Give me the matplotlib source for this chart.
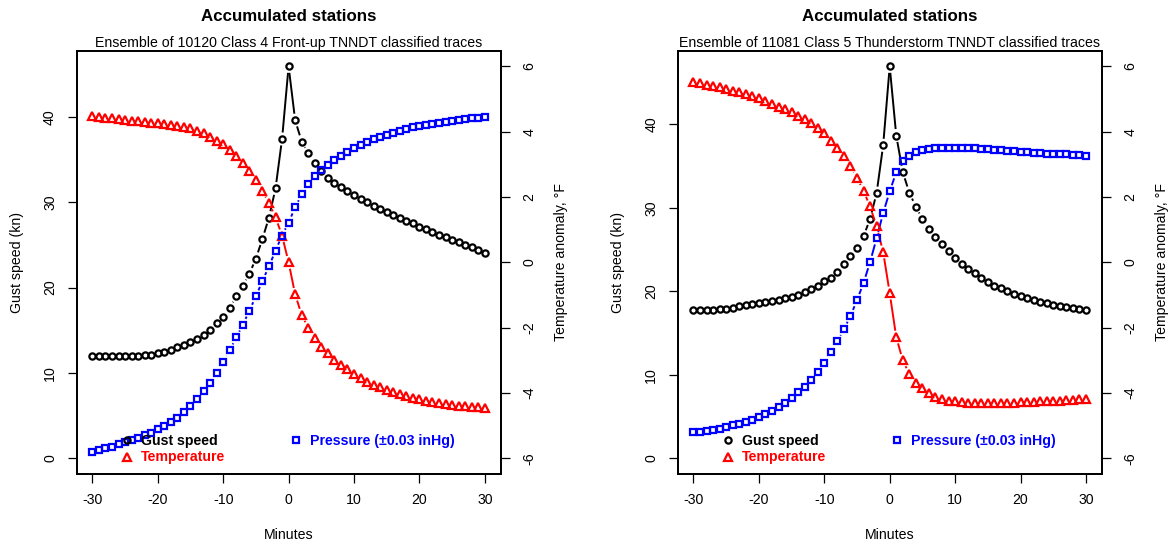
import numpy as np
import matplotlib
matplotlib.use('Agg')
import matplotlib.pyplot as plt
from matplotlib.collections import LineCollection

plt.rcParams['font.family'] = ['Liberation Sans', 'DejaVu Sans']
plt.rcParams['axes.unicode_minus'] = False

minutes = list(range(-30, 31))

# class 4 front-up ensemble
gust_front = [12.0, 11.95, 11.95, 11.95, 11.95, 11.95, 12.0, 12.0, 12.05, 12.1,
              12.3, 12.5, 12.7, 13.0, 13.3, 13.6, 14.0, 14.4, 15.0, 15.8,
              16.6, 17.6, 19.0, 20.2, 21.6, 23.4, 25.7, 28.2, 31.6, 37.4,
              45.9,
              39.6, 37.1, 35.7, 34.6, 33.6, 32.8, 32.3, 31.8, 31.3, 30.8,
              30.4, 30.0, 29.6, 29.2, 28.8, 28.5, 28.1, 27.8, 27.5, 27.1,
              26.8, 26.5, 26.2, 25.9, 25.6, 25.3, 25.0, 24.7, 24.4, 24.1]
temp_front = [4.47, 4.45, 4.43, 4.41, 4.39, 4.36, 4.34, 4.32, 4.30, 4.28,
              4.26, 4.24, 4.20, 4.18, 4.14, 4.10, 4.03, 3.95, 3.84, 3.73,
              3.62, 3.43, 3.25, 3.04, 2.79, 2.53, 2.19, 1.81, 1.38, 0.82,
              0.0,
              -0.98, -1.61, -2.01, -2.31, -2.58, -2.79, -2.98, -3.14, -3.27, -3.42,
              -3.53, -3.65, -3.75, -3.83, -3.91, -3.97, -4.04, -4.10, -4.15, -4.19,
              -4.24, -4.27, -4.30, -4.33, -4.36, -4.39, -4.41, -4.43, -4.44, -4.46]
# pressure anomaly on the right-hand scale (+-6 there is +-0.03 inHg)
pres_front = [-5.81, -5.75, -5.69, -5.64, -5.57, -5.51, -5.45, -5.38, -5.29, -5.22,
              -5.11, -5.01, -4.90, -4.76, -4.58, -4.40, -4.18, -3.94, -3.68, -3.38,
              -3.04, -2.69, -2.30, -1.91, -1.48, -1.04, -0.57, -0.12, 0.36, 0.82,
              1.22,
              1.68, 2.08, 2.39, 2.63, 2.82, 2.99, 3.14, 3.27, 3.39, 3.50,
              3.60, 3.69, 3.78, 3.84, 3.90, 3.97, 4.02, 4.08, 4.13, 4.17,
              4.21, 4.24, 4.28, 4.31, 4.33, 4.36, 4.38, 4.41, 4.43, 4.45]

# class 5 thunderstorm ensemble
gust_storm = [17.76, 17.76, 17.76, 17.80, 17.84, 17.93, 18.05, 18.22, 18.35, 18.47,
              18.60, 18.72, 18.85, 18.97, 19.14, 19.31, 19.56, 19.89, 20.27, 20.69,
              21.19, 21.65, 22.32, 23.23, 24.19, 25.24, 26.58, 28.67, 31.76, 37.48,
              46.93,
              38.65, 34.27, 31.80, 30.13, 28.63, 27.46, 26.46, 25.66, 24.82, 23.99,
              23.32, 22.69, 22.15, 21.60, 21.10, 20.69, 20.35, 20.02, 19.72, 19.43,
              19.18, 18.97, 18.76, 18.60, 18.39, 18.26, 18.09, 17.97, 17.84, 17.76]
temp_storm = [5.51, 5.48, 5.44, 5.40, 5.36, 5.32, 5.26, 5.21, 5.15, 5.09,
              5.02, 4.94, 4.86, 4.77, 4.68, 4.59, 4.49, 4.38, 4.26, 4.12,
              3.95, 3.73, 3.51, 3.25, 2.94, 2.58, 2.19, 1.71, 1.10, 0.32,
              -0.94,
              -2.29, -3.00, -3.42, -3.69, -3.86, -4.01, -4.11, -4.18, -4.23, -4.26,
              -4.29, -4.30, -4.31, -4.32, -4.32, -4.31, -4.31, -4.30, -4.30, -4.29,
              -4.28, -4.27, -4.26, -4.25, -4.24, -4.23, -4.22, -4.20, -4.19, -4.18]
pres_storm = [-5.20, -5.18, -5.15, -5.12, -5.09, -5.05, -4.99, -4.95, -4.89, -4.82,
              -4.74, -4.65, -4.55, -4.43, -4.31, -4.15, -3.98, -3.81, -3.59, -3.35,
              -3.08, -2.76, -2.42, -2.05, -1.64, -1.16, -0.63, 0.01, 0.74, 1.51,
              2.17,
              2.76, 3.10, 3.27, 3.37, 3.43, 3.48, 3.50, 3.51, 3.51, 3.51,
              3.51, 3.50, 3.49, 3.48, 3.47, 3.45, 3.43, 3.41, 3.40, 3.38,
              3.37, 3.36, 3.34, 3.33, 3.33, 3.32, 3.31, 3.30, 3.28, 3.26]

subtitles = ['Ensemble of 10120 Class 4 Front-up TNNDT classified traces',
             'Ensemble of 11081 Class 5 Thunderstorm TNNDT classified traces']

FS = 10.2
LW = 1.4
MEW = 1.6
GAP = 6.5  # pixels cut from each end of a segment, like R's type="b"


def pad4(lo, hi):
    r = hi - lo
    return lo - 0.04 * r, hi + 0.04 * r


def plot_b(ax, x, y, color, marker, ms):
    pts = ax.transData.transform(np.column_stack([x, y]))
    segs = []
    for p, q in zip(pts[:-1], pts[1:]):
        d = q - p
        L = np.hypot(d[0], d[1])
        if L > 2 * GAP:
            u = d / L
            segs.append(ax.transData.inverted().transform([p + u * GAP, q - u * GAP]))
    ax.add_collection(LineCollection(segs, colors=color, linewidths=LW, zorder=2))
    h, = ax.plot(x, y, ls='none', marker=marker, ms=ms, mfc='none', mec=color,
                 mew=MEW, zorder=3)
    return h


def panel(fig, rect, gust, temp, pres, subtitle):
    ax = fig.add_axes(rect)
    ax.set_xlim(pad4(-30, 30))
    ax.set_ylim(pad4(0, max(gust)))
    ax2 = ax.twinx()
    ax2.set_ylim(pad4(-6, 6))

    h1 = plot_b(ax, minutes, gust, 'black', 'o', 4.5)
    h2 = plot_b(ax2, minutes, temp, 'red', '^', 5.2)
    h3 = plot_b(ax2, minutes, pres, 'blue', 's', 4.0)

    ax.set_xticks([-30, -20, -10, 0, 10, 20, 30])
    ax.set_yticks([0, 10, 20, 30, 40])
    ax2.set_yticks([-6, -4, -2, 0, 2, 4, 6])
    for a in (ax, ax2):
        for s in a.spines.values():
            s.set_linewidth(1.3)
        a.tick_params(length=6.6, width=0.9, labelsize=FS, pad=7)
    ax.tick_params(axis='y', labelrotation=90, pad=7.5)
    ax2.tick_params(axis='y', labelrotation=90, pad=9)
    for t in ax.get_yticklabels() + ax2.get_yticklabels():
        t.set_va('center')

    ax.text(0.5, 1.081, 'Accumulated stations', transform=ax.transAxes,
            ha='center', va='center', fontsize=12.2, fontweight='bold')
    ax.text(0.5, 1.019, subtitle, transform=ax.transAxes,
            ha='center', va='center', fontsize=FS)
    ax.text(0.5, -0.144, 'Minutes', transform=ax.transAxes,
            ha='center', va='center', fontsize=FS)
    ax.text(-0.141, 0.5, 'Gust speed (kn)', transform=ax.transAxes,
            ha='center', va='center', rotation=90, fontsize=FS)
    ax.text(1.1416, 0.5, 'Temperature anomaly, °F', transform=ax.transAxes,
            ha='center', va='center', rotation=90, fontsize=FS)

    leg = ax2.legend([h1, h2, h3], ['Gust speed', 'Temperature', 'Pressure (±0.03 inHg)'],
                     ncol=2, loc='upper left', bbox_to_anchor=(0.1045, 0.094),
                     frameon=False, borderpad=0, borderaxespad=0,
                     handlelength=0.8, handletextpad=0.58, columnspacing=4.6,
                     labelspacing=0.16,
                     labelcolor=['black', 'red', 'blue'],
                     prop={'weight': 'bold', 'size': FS})
    leg.set_zorder(5)


fig = plt.figure(figsize=(11.74, 5.48), dpi=100)
W, H = 1174, 548
panel(fig, [76.7 / W, 74 / H, 423.8 / W, 423.3 / H],
      gust_front, temp_front, pres_front, subtitles[0])
panel(fig, [677.8 / W, 74 / H, 423.8 / W, 423.3 / H],
      gust_storm, temp_storm, pres_storm, subtitles[1])

fig.savefig('out.png', dpi=100)
